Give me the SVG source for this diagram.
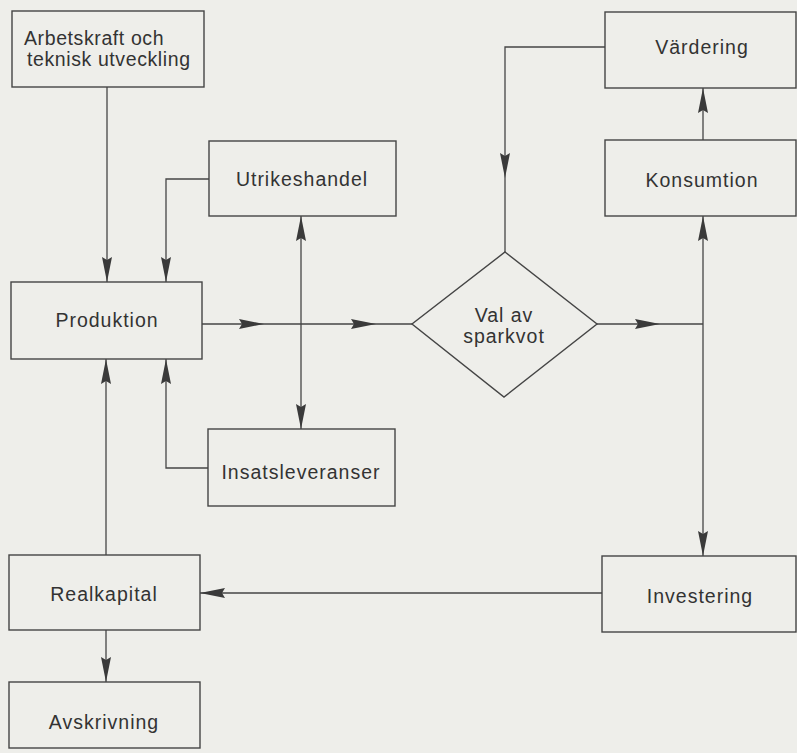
<svg xmlns="http://www.w3.org/2000/svg" width="797" height="753" viewBox="0 0 797 753">
<style>
.box{fill:none;stroke:#454545;stroke-width:1.4}
.lbl{font-family:"Liberation Sans",Arial,sans-serif;font-size:19.5px;fill:#333;letter-spacing:1px}
.c{text-anchor:middle}
.tight{letter-spacing:0.6px}
.ln{fill:none;stroke:#454545;stroke-width:1.3}
</style>
<defs>
<marker id="ah" viewBox="0 0 25 10" refX="25" refY="5" markerWidth="25" markerHeight="10" markerUnits="userSpaceOnUse" orient="auto-start-reverse">
<path d="M0,0 L25,5 L0,10 L3,5 z" fill="#3a3a3a"/>
</marker>
</defs>
<rect width="797" height="753" fill="#eeeeea"/>
<g id="connectors">
<path class="ln" d="M107,87 V282" marker-end="url(#ah)"/>
<path class="ln" d="M209,179 H166 V282" marker-end="url(#ah)"/>
<path class="ln" d="M202,324 H264" marker-end="url(#ah)"/>
<path class="ln" d="M264,324 H376" marker-end="url(#ah)"/>
<path class="ln" d="M376,324 H412"/>
<path class="ln" d="M301,216 V429" marker-start="url(#ah)" marker-end="url(#ah)"/>
<path class="ln" d="M208,468 H166 V359" marker-end="url(#ah)"/>
<path class="ln" d="M106,555 V359" marker-end="url(#ah)"/>
<path class="ln" d="M106,630 V682" marker-end="url(#ah)"/>
<path class="ln" d="M602,593 H200" marker-end="url(#ah)"/>
<path class="ln" d="M605,47 H505 V178" marker-end="url(#ah)"/>
<path class="ln" d="M505,178 V252"/>
<path class="ln" d="M597,324 H660" marker-end="url(#ah)"/>
<path class="ln" d="M660,324 H703"/>
<path class="ln" d="M703,216 V556" marker-start="url(#ah)" marker-end="url(#ah)"/>
<path class="ln" d="M703,140 V88" marker-end="url(#ah)"/>
</g>
<g id="arbetskraft">
<rect class="box" x="12" y="11" width="192" height="76"/>
<text class="lbl tight" x="24" y="45">Arbetskraft och</text>
<text class="lbl tight" x="27" y="66">teknisk utveckling</text>
</g>
<g id="utrikeshandel">
<rect class="box" x="209" y="141" width="187" height="75"/>
<text class="lbl c" x="302" y="186">Utrikeshandel</text>
</g>
<g id="produktion">
<rect class="box" x="11" y="282" width="191" height="77"/>
<text class="lbl c" x="107" y="327">Produktion</text>
</g>
<g id="insatsleveranser">
<rect class="box" x="208" y="429" width="187" height="77"/>
<text class="lbl c" x="301" y="479">Insatsleveranser</text>
</g>
<g id="val-av-sparkvot">
<polygon class="box" points="505,252 597,324 504,397 412,324"/>
<text class="lbl c" x="504" y="322">Val av</text>
<text class="lbl c" x="504" y="343">sparkvot</text>
</g>
<g id="vardering">
<rect class="box" x="605" y="12" width="191" height="76"/>
<text class="lbl c" x="702" y="54">Värdering</text>
</g>
<g id="konsumtion">
<rect class="box" x="605" y="140" width="191" height="76"/>
<text class="lbl c" x="702" y="187">Konsumtion</text>
</g>
<g id="investering">
<rect class="box" x="602" y="556" width="194" height="76"/>
<text class="lbl c" x="700" y="603">Investering</text>
</g>
<g id="realkapital">
<rect class="box" x="9" y="555" width="191" height="75"/>
<text class="lbl c" x="104" y="601">Realkapital</text>
</g>
<g id="avskrivning">
<rect class="box" x="9" y="682" width="191" height="66"/>
<text class="lbl c" x="104" y="729">Avskrivning</text>
</g>
</svg>
